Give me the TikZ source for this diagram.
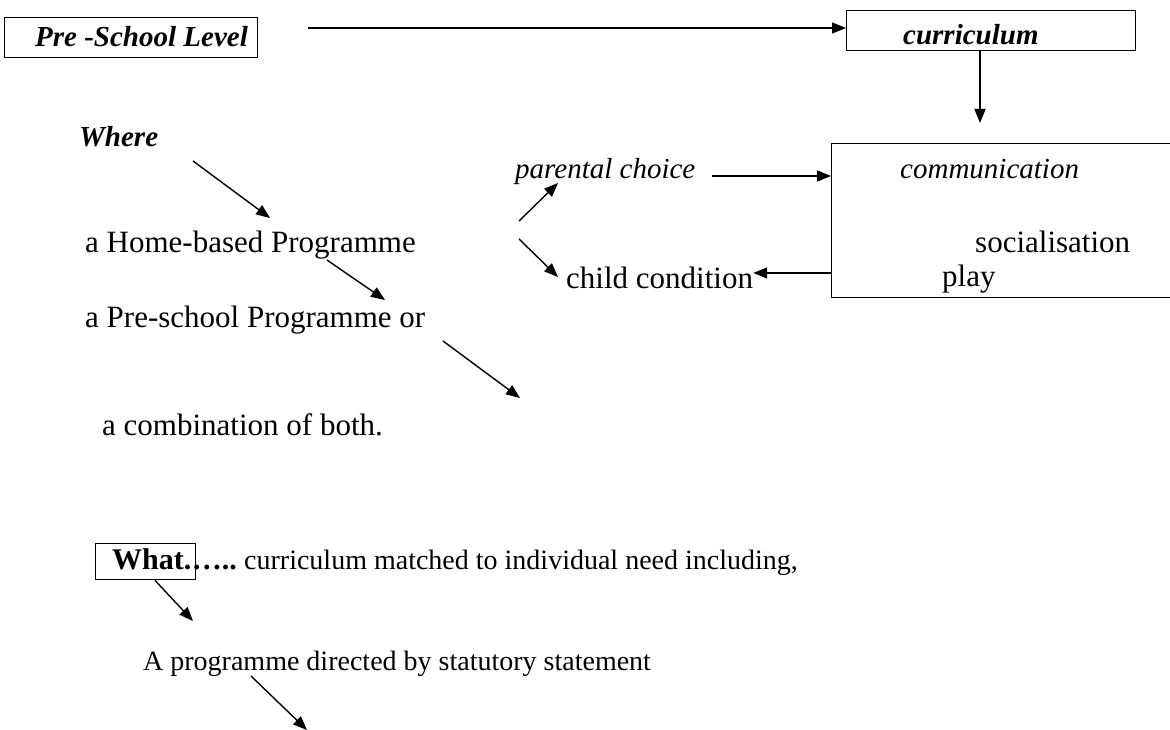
\documentclass[tikz,border=0pt]{standalone}
\usepackage{fontspec}
\setmainfont{Liberation Serif}
\usetikzlibrary{arrows.meta}
\begin{document}
\begin{tikzpicture}[x=1pt,y=-1pt,
  txt/.style={inner sep=0pt, anchor=base west, font=\fontsize{31}{36}\selectfont},
  itx/.style={inner sep=0pt, anchor=base west, font=\fontsize{29}{34}\selectfont\itshape},
  bix/.style={inner sep=0pt, anchor=base west, font=\fontsize{29}{34}\selectfont\bfseries\itshape},
  sml/.style={inner sep=0pt, anchor=base west, font=\fontsize{28}{33}\selectfont},
  smlb/.style={inner sep=0pt, anchor=base west, font=\fontsize{30}{35}\selectfont\bfseries},
  frame/.style={draw, line width=1.4pt, inner sep=0pt, anchor=north west},
  conn/.style={line width=1.4pt, -{Triangle[length=14pt,width=11pt]}},
]
\useasboundingbox (0,0) rectangle (1170,730);
\clip (0,0) rectangle (1170,730);

% top row
\node[frame, minimum width=253pt, minimum height=40pt] (pslbox) at (4,17) {};
\node[bix] (psl) at (35,47) {Pre -School Level};
\node[frame, minimum width=289pt, minimum height=40pt] (curbox) at (846,10) {};
\node[bix] (cur) at (903,45) {curriculum};
\coordinate (s1) at (308,28);
\draw[conn] (s1) -- (s1 -| curbox.west);
\coordinate (d1) at (980,123);
\draw[conn] (curbox.south -| d1) -- (d1);

% where
\node[bix] (where) at (79,147) {Where};
\coordinate (w1) at (193,161);
\coordinate (w2) at (270,218);
\draw[conn] (w1) -- (w2);
\node[txt] (home) at (85,252) {a Home-based Programme};
\coordinate (h1) at (327,260);
\coordinate (h2) at (385,300);
\draw[conn] (h1) -- (h2);
\node[txt] (pre) at (85,327) {a Pre-school Programme or};
\coordinate (q1) at (443,341);
\coordinate (q2) at (520,398);
\draw[conn] (q1) -- (q2);
\node[txt] (comb) at (102,435) {a combination of both.};

% parental / child
\node[itx] (par) at (515,179) {parental choice};
\node[txt] (child) at (566,288) {child condition};
\coordinate (f0) at (519,221);
\coordinate (f1) at (558,183);
\draw[conn] (f0) -- (f1);
\coordinate (g0) at (519,239);
\coordinate (g1) at (558,277);
\draw[conn] (g0) -- (g1);

% communication box
\node[frame, minimum width=360pt, minimum height=154pt] (combox) at (831,143) {};
\node[itx] (commt) at (900,179) {communication};
\node[txt] (soc) at (975,253) {socialisation};
\node[txt] (play) at (942,287) {play};
\coordinate (p1) at (712,176);
\draw[conn] (p1) -- (p1 -| combox.west);
\coordinate (c1) at (831,273);
\draw[conn] (c1) -- (c1 -| child.east);

% what
\node[frame, minimum width=100pt, minimum height=36pt] (whatbox) at (95,543) {};
\node[smlb] (what) at (112,569) {What.};
\node[smlb] (dots) at (what.base east) {…..};
\node[sml] (rest) at ([xshift=7pt]dots.base east) {curriculum matched to individual need including,};
\coordinate (a2) at (193,621);
\draw[conn] (whatbox.south -| 155,0) -- (a2);
\node[sml] (prog) at (143,670) {A programme directed by statutory statement};
\coordinate (b1) at (251,676);
\coordinate (b2) at (307,730);
\draw[conn] (b1) -- (b2);
\end{tikzpicture}
\end{document}
